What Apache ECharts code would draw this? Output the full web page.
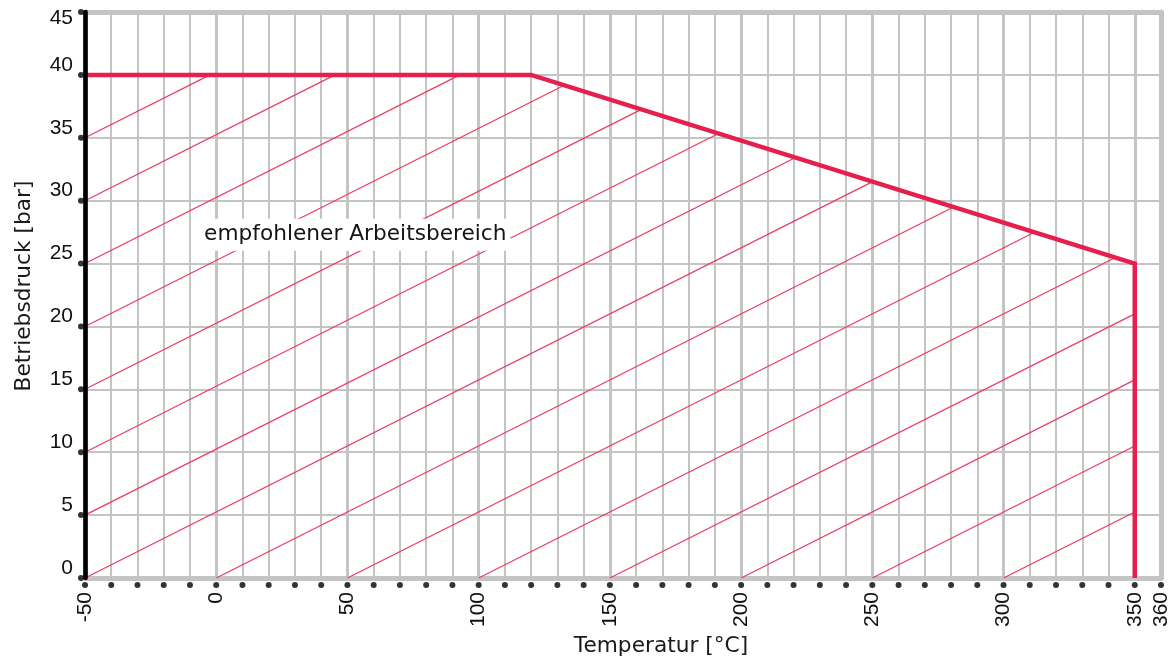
<!DOCTYPE html>
<html>
<head>
<meta charset="utf-8">
<script src="https://cdn.jsdelivr.net/npm/echarts@6/dist/echarts.min.js"></script>
<style>
html,body{margin:0;padding:0;background:#fff;}
#chart{width:1170px;height:659px;}
</style>
</head>
<body>
<div id="chart"></div>
<script>
// ---- data ----
const temperatureTicks = [-50,-40,-30,-20,-10,0,10,20,30,40,50,60,70,80,90,100,110,120,130,140,150,160,170,180,190,200,210,220,230,240,250,260,270,280,290,300,310,320,330,340,350,360];
const temperatureLabels = [-50,0,50,100,150,200,250,300,350,360];
const pressureTicks = [0,5,10,15,20,25,30,35,40,45];
// recommended working range boundary
const limitTemp  = [-50, 120, 350, 350];
const limitPress = [ 40,  40,  25,   0];
// hatch pattern: start points on the left edge (pressure at -50 °C) and on the bottom edge (temperature at 0 bar)
const hatchLeftPress  = [0,5,10,15,20,25,30,35];
const hatchBottomTemp = [0,50,100,150,200,250,300];
const hatchSlope = 0.105; // bar per °C
const regionLabel = 'empfohlener Arbeitsbereich';
const regionLabelAt = [53, 27.3];

// ---- helpers ----
function hatchEnd(x0, y0) {
  for (let i = 0; i < limitTemp.length - 1; i++) {
    const t1 = limitTemp[i], t2 = limitTemp[i+1], p1 = limitPress[i], p2 = limitPress[i+1];
    if (t1 === t2) {
      const y = y0 + hatchSlope * (t1 - x0);
      if (y >= Math.min(p1,p2) - 1e-9 && y <= Math.max(p1,p2) + 1e-9) return [t1, y];
      continue;
    }
    const k = (p2 - p1) / (t2 - t1);
    const x = (p1 - k * t1 - y0 + hatchSlope * x0) / (hatchSlope - k);
    if (x >= t1 - 1e-9 && x <= t2 + 1e-9 && x >= x0) return [x, y0 + hatchSlope * (x - x0)];
  }
  return null;
}
const hatchStarts = hatchLeftPress.map(p => [limitTemp[0], p]).concat(hatchBottomTemp.map(t => [t, 0]));
const hatchData = [];
hatchStarts.forEach(s => {
  const e = hatchEnd(s[0], s[1]);
  if (e) hatchData.push({ coords: [s, e] });
});

const NARROW = '"Liberation Sans Narrow", "Liberation Sans", "DejaVu Sans Condensed", sans-serif';
const SANS = '"DejaVu Sans", Verdana, sans-serif';
const GRID_GRAY = '#c4c4c4';
const RED = '#e5204e';
const HATCH_RED = '#ec3a60';

const chart = echarts.init(document.getElementById('chart'), null, { renderer: 'canvas' });
chart.setOption({
  backgroundColor: '#fff',
  animation: false,
  grid: { left: 85, right: 9, top: 12, bottom: 81, containLabel: false, outerBoundsMode: 'none' },
  xAxis: [
    {
      type: 'value', position: 'bottom', min: -50, max: 360, interval: 10,
      axisLine: { show: true, onZero: false, lineStyle: { color: GRID_GRAY, width: 5 } },
      axisTick: { show: false },
      splitLine: { show: true, lineStyle: { color: GRID_GRAY, width: 2 } },
      axisLabel: {
        rotate: 90, margin: 14, showMinLabel: true, showMaxLabel: true,
        fontFamily: NARROW, fontSize: 21, color: '#111',
        formatter: v => temperatureLabels.indexOf(v) >= 0 ? String(v) : ''
      },
      name: 'Temperatur [°C]', nameLocation: 'middle', nameGap: 50,
      nameTextStyle: { fontFamily: SANS, fontSize: 21.7, color: '#1a1a1a', padding: [0,0,0,76] }
    },
    {
      type: 'value', position: 'top', min: -50, max: 360, interval: 50,
      axisLine: { show: true, onZero: false, lineStyle: { color: GRID_GRAY, width: 5 } },
      axisTick: { show: false }, axisLabel: { show: false },
      splitLine: { show: true, lineStyle: { color: GRID_GRAY, width: 3 } }
    }
  ],
  yAxis: [
    {
      type: 'value', position: 'left', min: 0, max: 45, interval: 5,
      axisLine: { show: false }, axisTick: { show: false },
      splitLine: { show: true, lineStyle: { color: GRID_GRAY, width: 2 } },
      axisLabel: {
        margin: 12, fontFamily: NARROW, fontSize: 21, color: '#111',
        formatter: v => v === 45 ? '{t|' + v + '}' : '{n|' + v + '}',
        rich: {
          n: { fontFamily: NARROW, fontSize: 21, color: '#111', padding: [0,0,20,0] },
          t: { fontFamily: NARROW, fontSize: 21, color: '#111', padding: [12,0,0,0] }
        }
      },
      name: 'Betriebsdruck [bar]', nameLocation: 'middle', nameGap: 50, nameRotate: 90,
      nameTextStyle: { fontFamily: SANS, fontSize: 21.7, color: '#1a1a1a', padding: [0,0,0,18] }
    },
    {
      type: 'value', position: 'right', min: 0, max: 45, interval: 5,
      axisLine: { show: true, onZero: false, lineStyle: { color: GRID_GRAY, width: 5 } },
      axisTick: { show: false }, axisLabel: { show: false }, splitLine: { show: false }
    },
    {
      type: 'value', position: 'left', min: 0, max: 45, interval: 5, z: 10,
      axisLine: { show: true, onZero: false, lineStyle: { color: '#000', width: 4.7 } },
      axisTick: { show: false }, axisLabel: { show: false }, splitLine: { show: false }
    }
  ],
  series: [
    {
      type: 'lines', coordinateSystem: 'cartesian2d', xAxisIndex: 0, yAxisIndex: 0,
      polyline: false, silent: true, z: 3,
      lineStyle: { color: HATCH_RED, width: 1.2, opacity: 1 },
      data: hatchData
    },
    {
      type: 'line', xAxisIndex: 0, yAxisIndex: 0, z: 4, clip: true,
      showSymbol: false, symbol: 'none', silent: true,
      lineStyle: { color: RED, width: 4.5, join: 'miter' },
      data: limitTemp.map((t, i) => [t, limitPress[i]])
    },
    {
      type: 'scatter', xAxisIndex: 0, yAxisIndex: 0, z: 6, clip: false, silent: true,
      symbol: 'circle', symbolSize: 0, itemStyle: { color: 'rgba(0,0,0,0)' },
      label: {
        show: true, position: [0, 0], align: 'center', verticalAlign: 'middle',
        formatter: regionLabel, opacity: 1, textBorderWidth: 0,
        fontFamily: SANS, fontSize: 21.7, color: '#141414',
        backgroundColor: '#fff', padding: [5, 4, 5, 4]
      },
      labelLayout: { hideOverlap: false },
      data: [regionLabelAt]
    },
    {
      type: 'scatter', xAxisIndex: 0, yAxisIndex: 0, z: 12, clip: false, silent: true,
      symbol: 'circle', symbolSize: 6, symbolOffset: [0, 7],
      itemStyle: { color: '#000' },
      data: temperatureTicks.map(t => [t, 0])
    },
    {
      type: 'scatter', xAxisIndex: 0, yAxisIndex: 0, z: 12, clip: false, silent: true,
      symbol: 'circle', symbolSize: 6, symbolOffset: [-4, 0],
      itemStyle: { color: '#000' },
      data: pressureTicks.map(p => [-50, p])
    }
  ]
});
</script>
</body>
</html>
